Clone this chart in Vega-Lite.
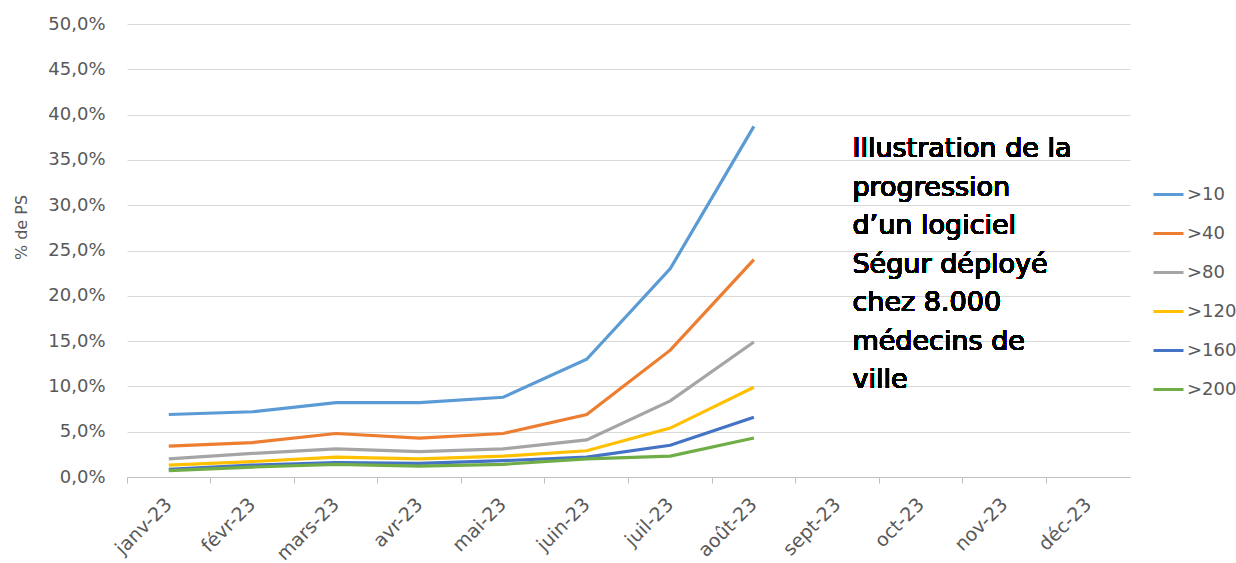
{
  "$schema": "https://vega.github.io/schema/vega-lite/v6.json",
  "width": 1003,
  "height": 453,
  "autosize": "none",
  "padding": {"left": 127, "top": 24, "right": 106, "bottom": 86},
  "background": "white",
  "config": {
    "view": {"stroke": null},
    "font": "DejaVu Sans",
    "axis": {"labelFont": "DejaVu Sans", "titleFont": "DejaVu Sans", "labelColor": "#595959", "titleColor": "#595959"}
  },
  "data": {
    "values": [
      {"mois": "janv-23", "seuil": ">10", "pct": 0.069},
      {"mois": "févr-23", "seuil": ">10", "pct": 0.072},
      {"mois": "mars-23", "seuil": ">10", "pct": 0.082},
      {"mois": "avr-23", "seuil": ">10", "pct": 0.082},
      {"mois": "mai-23", "seuil": ">10", "pct": 0.088},
      {"mois": "juin-23", "seuil": ">10", "pct": 0.130},
      {"mois": "juil-23", "seuil": ">10", "pct": 0.230},
      {"mois": "août-23", "seuil": ">10", "pct": 0.387},
      {"mois": "janv-23", "seuil": ">40", "pct": 0.034},
      {"mois": "févr-23", "seuil": ">40", "pct": 0.038},
      {"mois": "mars-23", "seuil": ">40", "pct": 0.048},
      {"mois": "avr-23", "seuil": ">40", "pct": 0.043},
      {"mois": "mai-23", "seuil": ">40", "pct": 0.048},
      {"mois": "juin-23", "seuil": ">40", "pct": 0.069},
      {"mois": "juil-23", "seuil": ">40", "pct": 0.140},
      {"mois": "août-23", "seuil": ">40", "pct": 0.240},
      {"mois": "janv-23", "seuil": ">80", "pct": 0.020},
      {"mois": "févr-23", "seuil": ">80", "pct": 0.026},
      {"mois": "mars-23", "seuil": ">80", "pct": 0.031},
      {"mois": "avr-23", "seuil": ">80", "pct": 0.028},
      {"mois": "mai-23", "seuil": ">80", "pct": 0.031},
      {"mois": "juin-23", "seuil": ">80", "pct": 0.041},
      {"mois": "juil-23", "seuil": ">80", "pct": 0.084},
      {"mois": "août-23", "seuil": ">80", "pct": 0.149},
      {"mois": "janv-23", "seuil": ">120", "pct": 0.013},
      {"mois": "févr-23", "seuil": ">120", "pct": 0.017},
      {"mois": "mars-23", "seuil": ">120", "pct": 0.022},
      {"mois": "avr-23", "seuil": ">120", "pct": 0.020},
      {"mois": "mai-23", "seuil": ">120", "pct": 0.023},
      {"mois": "juin-23", "seuil": ">120", "pct": 0.029},
      {"mois": "juil-23", "seuil": ">120", "pct": 0.054},
      {"mois": "août-23", "seuil": ">120", "pct": 0.099},
      {"mois": "janv-23", "seuil": ">160", "pct": 0.0085},
      {"mois": "févr-23", "seuil": ">160", "pct": 0.013},
      {"mois": "mars-23", "seuil": ">160", "pct": 0.016},
      {"mois": "avr-23", "seuil": ">160", "pct": 0.015},
      {"mois": "mai-23", "seuil": ">160", "pct": 0.018},
      {"mois": "juin-23", "seuil": ">160", "pct": 0.022},
      {"mois": "juil-23", "seuil": ">160", "pct": 0.035},
      {"mois": "août-23", "seuil": ">160", "pct": 0.066},
      {"mois": "janv-23", "seuil": ">200", "pct": 0.007},
      {"mois": "févr-23", "seuil": ">200", "pct": 0.011},
      {"mois": "mars-23", "seuil": ">200", "pct": 0.014},
      {"mois": "avr-23", "seuil": ">200", "pct": 0.012},
      {"mois": "mai-23", "seuil": ">200", "pct": 0.014},
      {"mois": "juin-23", "seuil": ">200", "pct": 0.020},
      {"mois": "juil-23", "seuil": ">200", "pct": 0.023},
      {"mois": "août-23", "seuil": ">200", "pct": 0.043}
    ]
  },
  "layer": [
    {
      "mark": {"type": "line", "strokeWidth": 3.2},
      "encoding": {
        "x": {
          "field": "mois",
          "type": "ordinal",
          "sort": null,
          "bandPosition": 0.5,
          "scale": {
            "type": "band",
            "paddingInner": 0,
            "paddingOuter": 0,
            "domain": ["janv-23", "févr-23", "mars-23", "avr-23", "mai-23", "juin-23", "juil-23", "août-23", "sept-23", "oct-23", "nov-23", "déc-23"]
          },
          "axis": {
            "title": null,
            "labelAngle": -45,
            "labelAlign": "right",
            "labelBaseline": "middle",
            "labelFontSize": 19,
            "labelPadding": 18,
            "bandPosition": 0,
            "domainColor": "#bfbfbf",
            "tickColor": "#bfbfbf",
            "tickSize": 6,
            "grid": false
          }
        },
        "y": {
          "field": "pct",
          "type": "quantitative",
          "scale": {"domain": [0, 0.5], "nice": false},
          "axis": {
            "title": "% de PS",
            "titleFontSize": 16,
            "titleFontWeight": "normal",
            "titlePadding": 18,
            "titleY": 203,
            "values": [0, 0.05, 0.1, 0.15, 0.2, 0.25, 0.3, 0.35, 0.4, 0.45, 0.5],
            "labelExpr": "replace(format(datum.value, '.1%'), '.', ',')",
            "labelFontSize": 18,
            "labelPadding": 22,
            "ticks": false,
            "domain": false,
            "gridColor": "#d9d9d9"
          }
        },
        "color": {
          "field": "seuil",
          "type": "nominal",
          "scale": {
            "domain": [">10", ">40", ">80", ">120", ">160", ">200"],
            "range": ["#5b9bd5", "#ed7d31", "#a5a5a5", "#ffc000", "#4472c4", "#70ad47"]
          },
          "legend": {
            "title": null,
            "orient": "none",
            "legendX": 1025,
            "legendY": 154,
            "symbolType": "stroke",
            "symbolSize": 900,
            "symbolStrokeWidth": 3,
            "rowPadding": 13,
            "labelFontSize": 18,
            "labelColor": "#595959",
            "labelFont": "DejaVu Sans",
            "labelOffset": 2
          }
        }
      }
    },
    {
      "mark": {
        "type": "text",
        "align": "left",
        "baseline": "alphabetic",
        "dx": 15,
        "fontSize": 27,
        "fontWeight": "normal",
        "lineHeight": 38.5,
        "font": "DejaVu Sans",
        "fill": "#000000",
        "strokeWidth": 0
      },
      "encoding": {
        "x": {"datum": "sept-23", "type": "ordinal", "bandPosition": 0.5},
        "y": {"datum": 0.353, "type": "quantitative"},
        "text": {"value": ["Illustration de la", "progression", "d’un logiciel", "Ségur déployé", "chez 8.000", "médecins de", "ville"]}
      }
    }
  ]
}
